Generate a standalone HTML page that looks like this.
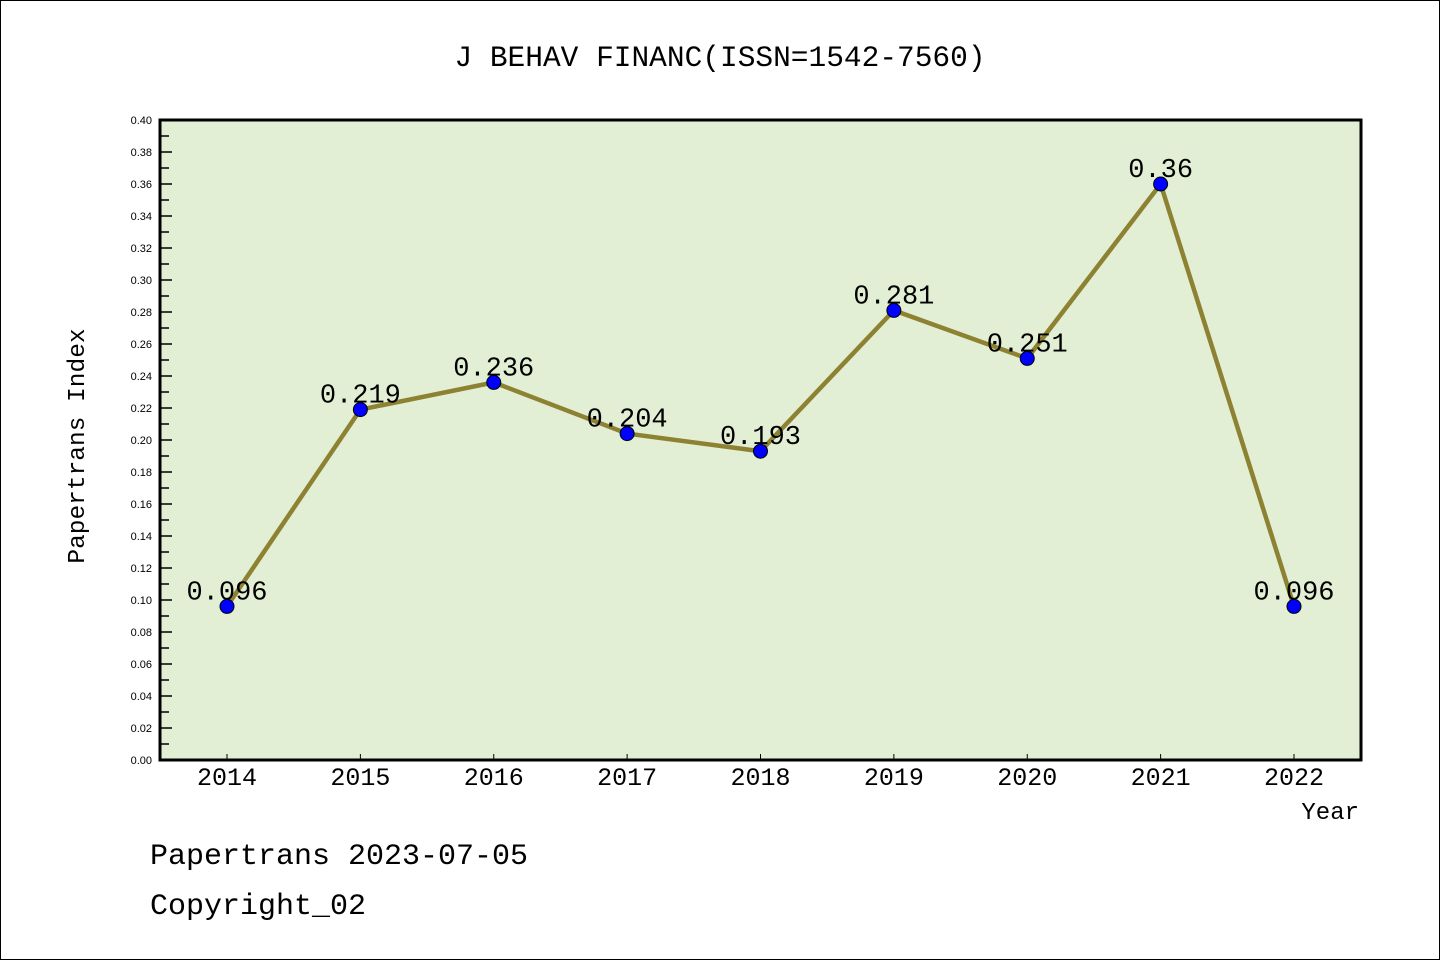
<!DOCTYPE html>
<html><head><meta charset="utf-8"><style>
body{margin:0;background:#fff}
svg{display:block}
text{font-family:"Liberation Mono","Noto Sans CJK SC",monospace}
text.s{font-family:"Liberation Sans",sans-serif}
</style></head><body>
<svg id="c" width="1440" height="960">
<rect x="0.5" y="0.5" width="1439" height="959" fill="#fff" stroke="#000"/>
<text x="720" y="66" text-anchor="middle" font-size="29.5">J BEHAV FINANC(ISSN=1542-7560)</text>
<rect x="160" y="120" width="1201" height="640" fill="#e2efd5"/>
<g id="ax"></g>
<rect x="160" y="120" width="1201" height="640" fill="none" stroke="#000" stroke-width="3"/>
<text transform="translate(84,446) rotate(-90)" text-anchor="middle" font-size="24.5">Papertrans Index</text>
<text x="1359" y="819" text-anchor="end" font-size="24">Year</text>
<text x="150" y="864" font-size="30">Papertrans 2023-07-05</text>
<text x="150" y="914" font-size="30">Copyright_02</text>
</svg>
<script>
const years=["2014","2015","2016","2017","2018","2019","2020","2021","2022"];
const values=[0.096,0.219,0.236,0.204,0.193,0.281,0.251,0.36,0.096];
const labels=["0.096","0.219","0.236","0.204","0.193","0.281","0.251","0.36","0.096"];
const yTicks=[0,0.02,0.04,0.06,0.08,0.10,0.12,0.14,0.16,0.18,0.20,0.22,0.24,0.26,0.28,0.30,0.32,0.34,0.36,0.38,0.40];
const NS="http://www.w3.org/2000/svg";
const g=document.getElementById('ax');
function y(v){return 760-v*1600;}
function x(i){return 227+i*(1294-227)/(years.length-1);}
function mk(t,a,p){const e=document.createElementNS(NS,t);for(const k in a)e.setAttribute(k,a[k]);(p||g).appendChild(e);return e;}
yTicks.forEach((v,i)=>{
 const l=mk('line',{x1:160,x2:172,y1:y(v),y2:y(v),stroke:'#000','stroke-width':1.5});
 
 
 if(i<yTicks.length-1){const m=mk('line',{x1:160,x2:169,y1:y(v+0.01),y2:y(v+0.01),stroke:'#000','stroke-width':1.5});
  
  }
 const t=mk('text',{x:152,y:y(v)+4,'text-anchor':'end','font-size':11,'class':'s'});
 t.textContent=v.toFixed(2);
 
 
});
years.forEach((yr,i)=>{
 const l=mk('line',{x1:x(i),x2:x(i),y1:760,y2:754,stroke:'#000','stroke-width':1});
 
 
 const t=mk('text',{x:x(i),y:785,'text-anchor':'middle','font-size':25});
 t.textContent=yr;
 
 
});
const line=mk('polyline',{points:values.map((v,i)=>x(i)+','+y(v)).join(' '),fill:'none',stroke:'#8c8232','stroke-width':4.5});


values.forEach((v,i)=>{
 const c=mk('circle',{cx:x(i),cy:y(v),r:7,fill:'#0000ff',stroke:'#000','stroke-width':1});
 
 
 const t=mk('text',{x:x(i),y:y(v)-7,'text-anchor':'middle','font-size':27});
 t.textContent=labels[i];
 
 
});
</script>
</body></html>
